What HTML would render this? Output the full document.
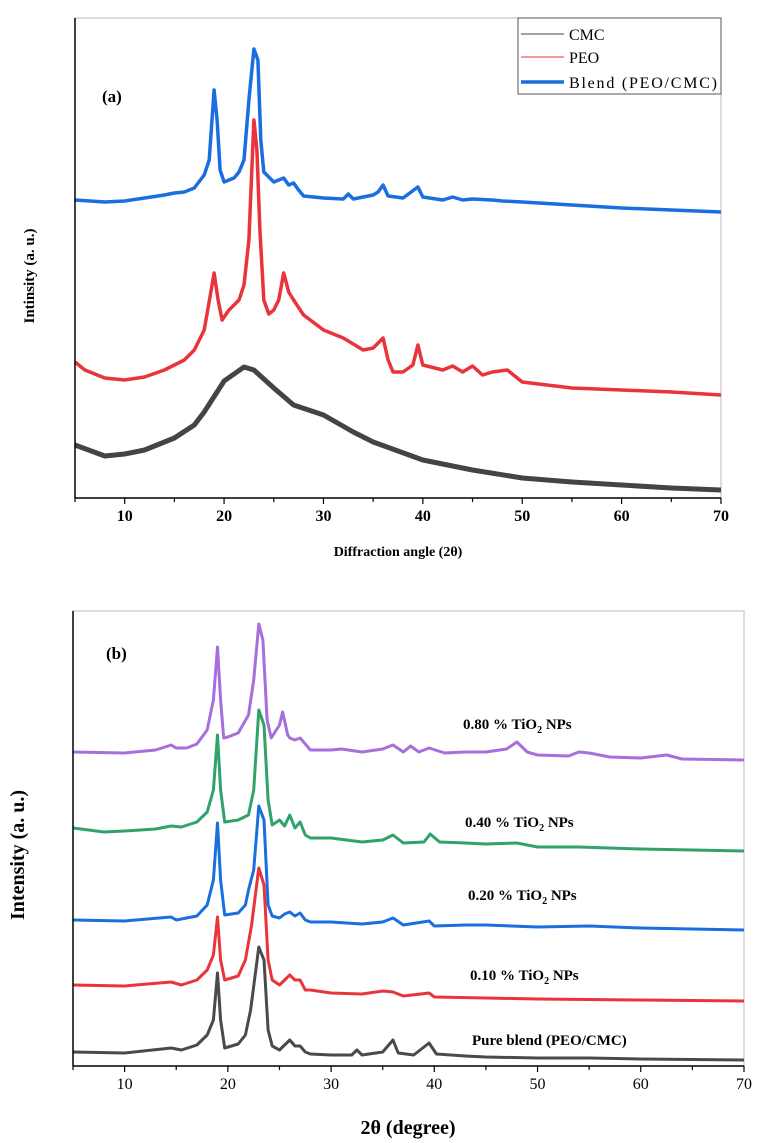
<!DOCTYPE html>
<html><head><meta charset="utf-8"><style>
html,body{margin:0;padding:0;background:#fff;}
svg{display:block;}
text{font-family:"Liberation Serif",serif;}
</style></head><body>
<svg id="fig" width="765" height="1143" viewBox="0 0 765 1143" xmlns="http://www.w3.org/2000/svg"></svg>
<script>
// ---- Panel (a) data ----
const aX_ticks = [10,20,30,40,50,60,70];
const aCMC_x = [5,8,10,12,15,17,18,20,22,23,25,27,30,33,35,40,45,50,55,60,65,70];
const aCMC_y = [53,42,44,48,60,73,86,117,131,128,110,93,83,66,56,38,28,20,16,13,10,8];
const aPEO_x = [5,6,8,10,12,14,16,17,18,18.7,19,19.4,19.8,20.5,21.5,22,22.5,23,23.3,23.6,24,24.5,25,25.5,26,26.5,27,28,30,32,34,35,36,36.5,37,38,39,39.5,40,42,43,44,45,46,47,48.5,50,55,60,65,70];
const aPEO_y = [136,128,120,118,121,128,138,148,168,208,225,198,178,188,198,213,258,378,348,268,198,184,188,198,225,206,198,183,168,160,148,150,160,138,126,126,133,153,133,128,132,126,132,123,126,128,116,110,108,106,103];
const aBlend_x = [5,8,10,12,14,15,16,17,18,18.5,19,19.3,19.6,20,21,21.5,22,22.5,23,23.4,23.7,24,25,26,26.5,27,27.5,28,30,32,32.5,33,35,35.5,36,36.5,38,39.5,40,42,43,44,45,47,48,50,55,60,65,70];
const aBlend_y = [298,296,297,300,303,305,306,310,323,338,408,378,328,316,320,326,338,398,449,438,358,326,316,320,313,315,308,302,300,299,304,299,303,306,313,302,300,311,301,298,301,298,299,298,297,296,293,290,288,286];

// ---- Panel (b) data ----
const bX_ticks = [10,20,30,40,50,60,70];
const bPure_x = [5,10,14.5,15.5,17,18,18.6,19,19.3,19.7,21,21.7,22.2,23,23.5,23.9,24.3,25,26,26.5,27,27.5,28,30,32,32.5,33,35,36,36.5,38,39.5,40.2,43,45,50,55,60,70];
const bPure_y = [14,13,18,16,21,31,46,93,46,18,22,31,56,119,106,36,20,16,26,20,20,14,12,11,11,16,11,14,26,13,11,23,12,10,9,8,8,7,6];
const b010_x = [5,10,14.5,15.5,17,18,18.6,19,19.3,19.7,21,21.7,22.3,23,23.5,23.9,24.3,25,26,26.5,27,27.5,28,30,33,35,36,37,39.5,40,45,50,60,70];
const b010_y = [81,80,84,81,86,96,111,149,106,86,90,106,141,198,181,106,86,81,91,86,86,76,76,73,72,75,74,70,73,69,68,67,66,65];
const b020_x = [5,10,14.5,15,17,18,18.6,19,19.3,19.7,21,21.7,22,22.5,23,23.5,23.9,24.3,25,25.5,26,26.5,27,27.5,28,30,33,35,36,37,39.5,40,43,45,50,55,60,70];
const b020_y = [146,145,149,146,150,161,186,243,186,151,153,161,176,196,260,246,161,150,148,152,154,150,153,146,144,144,142,144,148,141,145,140,141,141,139,140,138,136];
const b040_x = [5,8,10,13,14.5,15.5,17,18,18.6,19,19.3,19.7,21,22,22.5,23,23.5,23.9,24.3,25,25.5,26,26.5,27,27.5,28,30,33,35,36,37,39,39.6,40.5,43,45,48,50,54,60,70];
const b040_y = [238,234,235,237,240,239,244,254,276,331,276,244,246,251,276,356,341,266,241,246,240,251,238,244,231,228,228,224,226,231,223,224,232,224,223,222,223,219,219,217,215];
const b080_x = [5,10,13,14.5,15,16,17,18,18.6,19,19.3,19.6,20,21,22,22.5,23,23.4,23.8,24.2,25,25.3,25.8,26,26.5,27,28,30,31,33,35,36,37,37.7,38.5,39.5,41,43,45,47,48,49,50,53,54,55,57,60,62.5,64,70];
const b080_y = [314,313,316,321,318,318,322,336,366,419,366,328,329,333,351,386,442,426,346,328,341,354,331,328,326,328,316,316,317,314,317,321,314,320,314,318,313,314,314,317,324,314,311,310,314,313,309,308,311,307,306];

const NS="http://www.w3.org/2000/svg";
const svg=document.getElementById('fig');
function mk(tag,attrs,parent){const e=document.createElementNS(NS,tag);for(const k in attrs)e.setAttribute(k,attrs[k]);(parent||svg).appendChild(e);return e;}

function panel(cfg){
  const g=mk('g',{});
  
  
  const xs=d=>cfg.x0+(d-5)*(cfg.x1-cfg.x0)/65;
  const ys=v=>cfg.yb-v;
  const fr=mk('rect',{x:cfg.x0,y:cfg.yt,width:cfg.x1-cfg.x0,height:cfg.yb-cfg.yt,fill:'none',stroke:'#bbb','stroke-width':1},g);
  
  
  cfg.series.forEach(s=>{
    const pts=s.x.map((d,i)=>xs(d).toFixed(1)+','+ys(s.y[i]).toFixed(1)).join(' ');
    const pl=mk('polyline',{points:pts,fill:'none',stroke:s.color,'stroke-width':s.w,'stroke-linejoin':'round'},g);
    
    
  });
  const ax=mk('line',{x1:cfg.x0,y1:cfg.yt,x2:cfg.x0,y2:cfg.yb,stroke:'#000','stroke-width':1.5},g);
  
  
  const bx=mk('line',{x1:cfg.x0,y1:cfg.yb,x2:cfg.x1,y2:cfg.yb,stroke:'#000','stroke-width':1.5},g);
  
  
  for(let d=5;d<=70;d+=5){
    const major=d%10===0;
    const t=mk('line',{x1:xs(d),y1:cfg.yb,x2:xs(d),y2:cfg.yb+(major?6:4),stroke:'#000','stroke-width':1.2},g);
    
    
  }
  cfg.ticks.forEach(d=>{
    const t=mk('text',{x:xs(d),y:cfg.yb+23,'text-anchor':'middle','font-size':cfg.tickSize,'font-weight':cfg.tickWeight},g);
    t.textContent=String(d);
    
    
  });
  return g;
}

panel({name:'panel-a',x0:75,x1:721,yt:18,yb:498,ticks:aX_ticks,tickSize:16,tickWeight:'bold',series:[
  {name:'cmc-series',x:aCMC_x,y:aCMC_y,color:'#444',w:5},
  {name:'peo-series',x:aPEO_x,y:aPEO_y,color:'#e8343a',w:3.5},
  {name:'blend-series',x:aBlend_x,y:aBlend_y,color:'#1a6fe0',w:3.5}
]});
panel({name:'panel-b',x0:73,x1:744,yt:611,yb:1066,ticks:bX_ticks,tickSize:16,tickWeight:'normal',series:[
  {name:'pure-blend-series',x:bPure_x,y:bPure_y,color:'#4a4a4a',w:3},
  {name:'tio2-010-series',x:b010_x,y:b010_y,color:'#e8343a',w:3},
  {name:'tio2-020-series',x:b020_x,y:b020_y,color:'#1a6fe0',w:3},
  {name:'tio2-040-series',x:b040_x,y:b040_y,color:'#2fa36a',w:3},
  {name:'tio2-080-series',x:b080_x,y:b080_y,color:'#a66fdc',w:3}
]});
</script>
<svg width="765" height="1143" style="position:absolute;left:0;top:0" xmlns="http://www.w3.org/2000/svg">
  <g>
    <rect x="518" y="18" width="203" height="76" fill="#fff" stroke="#555" stroke-width="1"/>
    <line x1="521" y1="34" x2="564" y2="34" stroke="#444" stroke-width="1"/>
    <text x="569" y="40" font-size="16">CMC</text>
    <line x1="521" y1="57" x2="564" y2="57" stroke="#e8343a" stroke-width="1"/>
    <text x="569" y="63" font-size="16">PEO</text>
    <line x1="521" y1="82" x2="564" y2="82" stroke="#1a6fe0" stroke-width="3.5"/>
    <text x="569" y="88" font-size="16" textLength="148">Blend (PEO/CMC)</text>
  </g>
  <text x="102" y="102" font-size="17" font-weight="bold">(a)</text>
  <text x="398" y="556" font-size="14" font-weight="bold" text-anchor="middle">Diffraction angle (2θ)</text>
  <text transform="translate(34,276) rotate(-90)" font-size="15" font-weight="bold" text-anchor="middle">Intinsity (a. u.)</text>
  <text x="106" y="659" font-size="17" font-weight="bold">(b)</text>
  <text x="463" y="729" font-size="15" font-weight="bold">0.80 % TiO<tspan font-size="10" dy="4">2</tspan><tspan dy="-4"> NPs</tspan></text>
  <text x="465" y="827" font-size="15" font-weight="bold">0.40 % TiO<tspan font-size="10" dy="4">2</tspan><tspan dy="-4"> NPs</tspan></text>
  <text x="468" y="900" font-size="15" font-weight="bold">0.20 % TiO<tspan font-size="10" dy="4">2</tspan><tspan dy="-4"> NPs</tspan></text>
  <text x="470" y="980" font-size="15" font-weight="bold">0.10 % TiO<tspan font-size="10" dy="4">2</tspan><tspan dy="-4"> NPs</tspan></text>
  <text x="472" y="1045" font-size="15" font-weight="bold">Pure blend (PEO/CMC)</text>
  <text x="408" y="1134" font-size="20" font-weight="bold" text-anchor="middle">2θ (degree)</text>
  <text transform="translate(24,855) rotate(-90)" font-size="20" font-weight="bold" text-anchor="middle">Intensity (a. u.)</text>
</svg>
</body></html>
